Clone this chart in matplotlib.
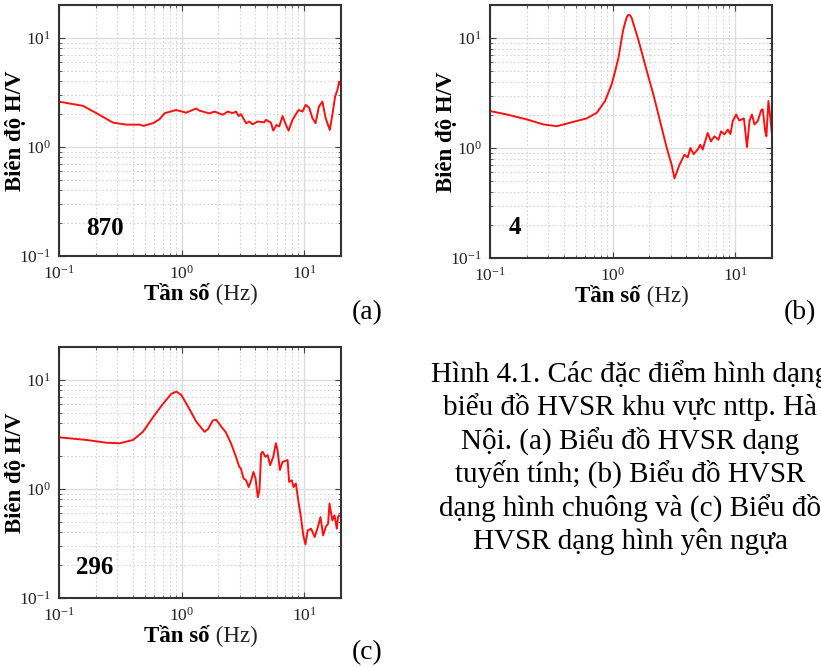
import matplotlib
matplotlib.use("Agg")
import matplotlib.pyplot as plt
import numpy as np

plt.rcParams['font.family'] = ['Liberation Serif', 'DejaVu Serif']
plt.rcParams['mathtext.fontset'] = 'custom'
plt.rcParams['mathtext.rm'] = 'Liberation Serif'

# (a) dạng tuyến tính - trạm 870
freq_a = [0.1, 0.157, 0.202, 0.276, 0.355, 0.456, 0.49, 0.585, 0.66, 0.73, 0.905,
          1.09, 1.32, 1.40, 1.69, 1.86, 2.17, 2.38, 2.61, 2.78, 2.92, 3.05, 3.36,
          3.57, 3.8, 4.17, 4.73, 4.88, 5.36, 5.6, 5.96, 6.27, 6.67, 7.02, 7.47,
          8.04, 9.0, 9.71, 10.3, 11.0, 11.7, 12.4, 13.2, 14.1, 15.0, 16.2, 17.0,
          17.9, 18.7, 19.3, 20.0]
hv_a = [2.6, 2.38, 2.04, 1.67, 1.60, 1.60, 1.56, 1.65, 1.79, 2.04, 2.18,
        2.06, 2.25, 2.15, 2.03, 2.11, 1.97, 2.11, 2.04, 2.11, 1.92, 2.0, 1.65,
        1.71, 1.61, 1.71, 1.68, 1.77, 1.67, 1.41, 1.59, 1.54, 1.92, 1.65, 1.41,
        1.77, 2.18, 2.11, 2.43, 2.29, 1.83, 1.65, 2.34, 2.6, 1.83, 1.43, 1.97,
        2.89, 3.33, 3.97, 3.6]

# (b) dạng hình chuông - trạm 4
freq_b = [0.1, 0.137, 0.2, 0.273, 0.351, 0.45, 0.615, 0.743, 0.869, 0.985, 1.05,
          1.12, 1.17, 1.22, 1.27, 1.31, 1.35, 1.39, 1.43, 1.48, 1.63, 1.9, 2.15,
          2.44, 2.77, 3.04, 3.2, 3.51, 3.86, 4.1, 4.31, 4.59, 4.95, 5.2, 5.44,
          5.97, 6.36, 6.77, 7.31, 7.69, 8.18, 8.72, 9.16, 9.57, 10.2, 10.8, 11.8,
          12.5, 13.1, 13.7, 14.4, 15.3, 16.3, 16.8, 17.6, 18.0, 18.7, 19.4, 20.0]
hv_b = [2.17, 2.02, 1.82, 1.64, 1.58, 1.70, 1.86, 2.09, 2.68, 3.82, 5.0,
        6.7, 9.0, 11.8, 14.0, 15.6, 16.3, 16.1, 15.3, 13.5, 9.5, 5.05, 3.09,
        1.76, 1.0, 0.70, 0.53, 0.70, 0.87, 0.82, 1.0, 0.88, 0.97, 1.07, 0.97,
        1.37, 1.15, 1.28, 1.19, 1.42, 1.33, 1.47, 1.34, 1.76, 2.02, 1.78, 1.86,
        1.02, 1.76, 2.02, 1.64, 1.76, 2.2, 2.25, 1.42, 1.28, 2.68, 1.88, 1.3]

# (c) dạng hình yên ngựa - trạm 296
freq_c = [0.1, 0.168, 0.244, 0.313, 0.402, 0.484, 0.585, 0.704, 0.824, 0.906,
          0.995, 1.13, 1.32, 1.54, 1.64, 1.8, 1.92, 2.1, 2.3, 2.53, 2.78, 2.96,
          3.05, 3.2, 3.36, 3.53, 3.7, 3.86, 4.01, 4.19, 4.32, 4.46, 4.59, 4.83,
          5.05, 5.28, 5.6, 5.88, 6.07, 6.34, 6.67, 7.33, 7.55, 7.94, 8.2, 8.56,
          9.0, 9.42, 9.85, 10.25, 10.7, 11.4, 12.2, 12.95, 13.6, 14.3, 15.0, 15.7,
          16.1, 17.0, 17.7, 18.5, 18.9, 19.3, 20.0]
hv_c = [2.97, 2.81, 2.65, 2.62, 2.81, 3.34, 4.54, 6.01, 7.43, 7.8,
        7.28, 5.68, 4.13, 3.34, 3.52, 4.25, 4.3, 3.75, 3.3, 2.62, 1.97, 1.59,
        1.54, 1.25, 1.2, 1.04, 1.2, 1.43, 1.25, 0.84, 0.97, 2.12, 2.19, 1.97,
        2.04, 1.65, 1.97, 2.62, 2.27, 1.49, 1.77, 1.84, 1.16, 1.2, 1.04, 1.12,
        0.76, 0.55, 0.375, 0.31, 0.417, 0.432, 0.362, 0.447, 0.552, 0.375, 0.447, 0.48,
        0.734, 0.515, 0.573, 0.432, 0.552, 0.573, 0.56]

caption = ["Hình 4.1. Các đặc điểm hình dạng",
           "biểu đồ HVSR khu vực nttp. Hà",
           "Nội. (a) Biểu đồ HVSR dạng",
           "tuyến tính; (b) Biểu đồ HVSR",
           "dạng hình chuông và (c) Biểu đồ",
           "HVSR dạng hình yên ngựa"]

W, H = 821, 667
fig = plt.figure(figsize=(W / 100, H / 100), dpi=100)


def px_axes(x0, y0, x1, y1):
    return fig.add_axes([x0 / W, 1 - y1 / H, (x1 - x0) / W, (y1 - y0) / H])


def hvsr_panel(ax, f, hv, station, sx, sy):
    ax.loglog(f, hv, color='#ff1010', lw=1.4)
    ax.set_xlim(0.1, 20)
    ax.set_ylim(0.1, 20)
    ax.grid(True, which='major', color='#dcdcdc', lw=1.0, ls='-')
    ax.grid(True, which='minor', color='#d4d4d4', lw=0.8, ls=(0, (1.5, 2)))
    ax.tick_params(which='both', direction='in', top=True, right=True,
                   colors='#444444', labelcolor='#222222', labelsize=12.5)
    ax.tick_params(which='major', length=4, pad=6)
    ax.tick_params(which='minor', length=2)
    for sp in ax.spines.values():
        sp.set_color('#333333')
        sp.set_linewidth(1.5)
    ax.set_ylabel('Biên độ H/V', fontsize=16.5, fontweight='bold')
    # anchor is the right edge of the rotated label
    ax.yaxis.set_label_coords(-0.118, 0.5)
    t = ax.text(0.535, -0.11, 'Tần số', transform=ax.transAxes, ha='right',
                va='top', fontsize=16.5, fontweight='bold')
    ax.annotate(' (Hz)', xy=(1, 0), xycoords=t, va='bottom', ha='left',
                fontsize=16.5, color='#222222')
    ax.text(sx, sy, station, transform=ax.transAxes, ha='center', va='center',
            fontsize=18, fontweight='bold')


ax_a = px_axes(59, 5, 341, 256)
hvsr_panel(ax_a, freq_a, hv_a, '870', 0.163, 0.11)
ax_b = px_axes(490, 5, 772, 258)
hvsr_panel(ax_b, freq_b, hv_b, '4', 0.089, 0.12)
ax_c = px_axes(59, 347, 341, 598)
hvsr_panel(ax_c, freq_c, hv_c, '296', 0.128, 0.12)

fig.text(367 / W, 1 - 313 / H, '(a)', ha='center', va='center', fontsize=20)
fig.text(800 / W, 1 - 313 / H, '(b)', ha='center', va='center', fontsize=20)
fig.text(367 / W, 1 - 653 / H, '(c)', ha='center', va='center', fontsize=20)

for i, line in enumerate(caption):
    yb = 381.7 + i * 33.4
    fig.text(630 / W, 1 - yb / H, line, ha='center', va='baseline', fontsize=21)

fig.savefig('out.png', dpi=100)
